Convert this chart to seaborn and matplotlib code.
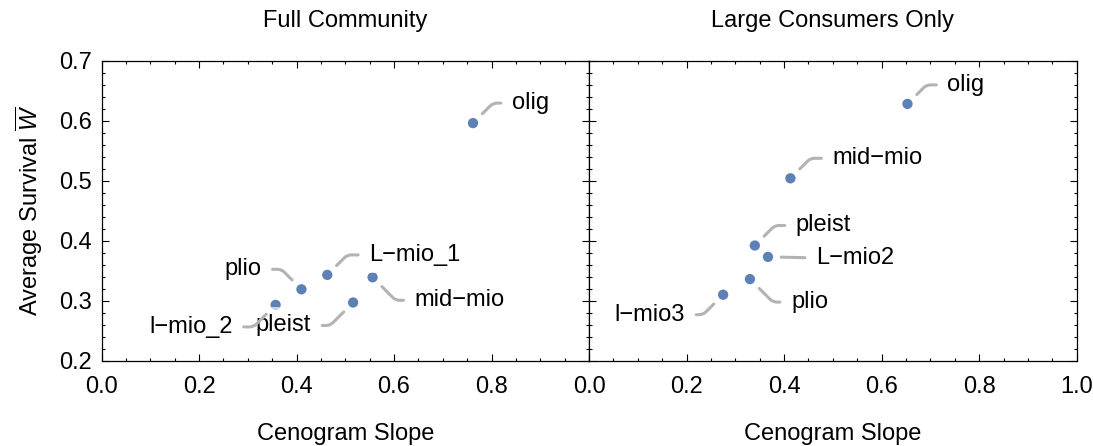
import matplotlib
matplotlib.use("Agg")
import matplotlib.pyplot as plt
from matplotlib.ticker import MultipleLocator
import pandas as pd
import seaborn as sns

# Full community: cenogram slope vs. average survival per interval
full_names = ["olig", "plio", "L\u2212mio_1", "mid\u2212mio", "pleist", "l\u2212mio_2"]
full_slope = [0.762, 0.410, 0.463, 0.556, 0.516, 0.357]
full_surv = [0.596, 0.319, 0.343, 0.339, 0.297, 0.293]

# Large consumers only
large_names = ["olig", "mid\u2212mio", "pleist", "L\u2212mio2", "plio", "l\u2212mio3"]
large_slope = [0.653, 0.413, 0.340, 0.367, 0.330, 0.275]
large_surv = [0.628, 0.504, 0.392, 0.373, 0.336, 0.310]

panel_titles = ["Full Community", "Large Consumers Only"]
x_label = "Cenogram Slope"
y_label = r"Average Survival $\overline{W}$"
left_xticks = [0.0, 0.2, 0.4, 0.6, 0.8]
right_xticks = [0.0, 0.2, 0.4, 0.6, 0.8, 1.0]

# callout placement: text offset in pixels (dx, dy) and leader angle at the point
full_callouts = [(39, 20, 45), (-40, 20, -45), (42, 20, 45),
                 (42, -23, -45), (-42, -23, 45), (-43, -22, 45)]
large_callouts = [(40, 19, 45), (42, 20, 45), (41, 20, 45),
                  (48, -1, None), (41, -23, -45), (-38, -20, 45)]

sns.set_theme(style="ticks")
plt.rcParams["font.family"] = ["Liberation Sans", "DejaVu Sans"]
plt.rcParams["mathtext.fontset"] = "custom"
plt.rcParams["mathtext.it"] = "Liberation Sans:italic"
plt.rcParams["mathtext.rm"] = "Liberation Sans"

FS = 17
DOT = "#5e81b5"
LEADER = "#b3b3b3"
W, H = 1093, 446

fig = plt.figure(figsize=(W / 100, H / 100), dpi=100)


def px_axes(x0, x1, ytop, ybot):
    return fig.add_axes([x0 / W, 1 - ybot / H, (x1 - x0) / W, (ybot - ytop) / H])


ax1 = px_axes(101.6, 589, 60.7, 360.7)
ax2 = px_axes(589, 1076.7, 60.7, 360.7)


def draw_panel(ax, names, xs, ys, callouts, title, xticks):
    df = pd.DataFrame({"slope": xs, "surv": ys, "name": names})
    sns.scatterplot(data=df, x="slope", y="surv", ax=ax, color=DOT, s=55,
                    edgecolor="none", linewidth=0, zorder=3, legend=False)
    for (name, x, y), (dx, dy, ang) in zip(zip(names, xs, ys), callouts):
        if ang is None:
            cs = "arc3,rad=0"
        else:
            cs = f"angle,angleA=0,angleB={ang},rad=4"
        right = dx > 0
        ax.annotate(name, xy=(x, y), xytext=(dx, dy), textcoords="offset pixels",
                    ha="left" if right else "right", va="center", fontsize=FS,
                    zorder=5, color="black",
                    bbox=dict(boxstyle="square,pad=0.3", fc="white", ec="none", alpha=0.65),
                    arrowprops=dict(arrowstyle="-", color=LEADER, lw=2.2,
                                    shrinkA=8, shrinkB=9.5, patchA=None,
                                    relpos=(0 if right else 1, 0.5),
                                    connectionstyle=cs))
    ax.set_xlim(0, 1)
    ax.set_ylim(0.2, 0.7)
    ax.set_xticks(xticks)
    ax.xaxis.set_minor_locator(MultipleLocator(0.05))
    ax.yaxis.set_major_locator(MultipleLocator(0.1))
    ax.yaxis.set_minor_locator(MultipleLocator(0.02))
    ax.tick_params(which="both", direction="in", top=True, right=True,
                   color="black", width=0.8, labelsize=FS, labelcolor="black")
    ax.tick_params(which="major", length=5)
    ax.tick_params(which="minor", length=2.5)
    ax.tick_params(axis="x", which="major", pad=11)
    ax.tick_params(axis="y", which="major", pad=7)
    for s in ax.spines.values():
        s.set_color("black")
        s.set_linewidth(0.9)
    ax.set_title(title, fontsize=FS, pad=24, color="black")
    ax.set_xlabel(x_label, fontsize=FS, labelpad=18, color="black")


draw_panel(ax1, full_names, full_slope, full_surv, full_callouts, panel_titles[0], left_xticks)
draw_panel(ax2, large_names, large_slope, large_surv, large_callouts, panel_titles[1], right_xticks)

ax1.set_ylabel(y_label, fontsize=FS, labelpad=10, color="black")
ax2.set_ylabel("")
ax2.tick_params(labelleft=False)

fig.savefig("out.png", dpi=100, facecolor="white")
